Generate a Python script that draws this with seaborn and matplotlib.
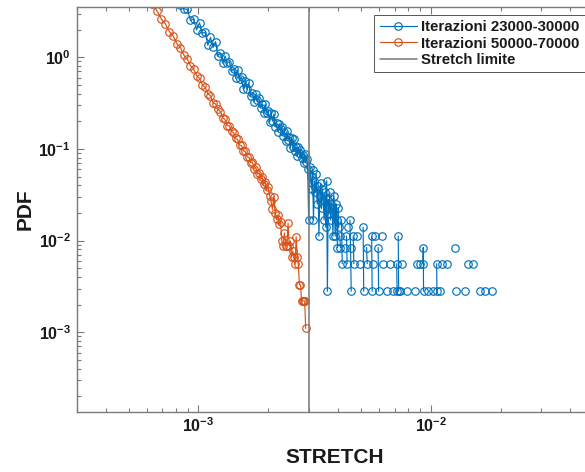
import numpy as np
import pandas as pd
import matplotlib
matplotlib.use("Agg")
import matplotlib.pyplot as plt
import seaborn as sns
from matplotlib.ticker import LogLocator, FuncFormatter, NullFormatter
from matplotlib.lines import Line2D

# ---------------- data ----------------
series_labels = ["Iterazioni 23000-30000", "Iterazioni 50000-70000", "Stretch limite"]
stretch_limit = 0.003

orange_x = [6.34e-4, 6.63e-4, 6.92e-4, 7.21e-4, 7.50e-4, 7.79e-4, 8.08e-4, 8.37e-4, 8.66e-4, 8.95e-4,
            9.24e-4, 9.53e-4, 9.82e-4, 1.011e-3, 1.040e-3, 1.069e-3, 1.098e-3, 1.127e-3, 1.156e-3, 1.185e-3,
            1.214e-3, 1.243e-3, 1.272e-3, 1.301e-3, 1.330e-3, 1.359e-3, 1.388e-3, 1.417e-3, 1.446e-3, 1.475e-3,
            1.504e-3, 1.533e-3, 1.562e-3, 1.591e-3, 1.620e-3, 1.649e-3, 1.678e-3, 1.707e-3, 1.736e-3, 1.765e-3,
            1.794e-3, 1.823e-3, 1.852e-3, 1.881e-3, 1.910e-3, 1.939e-3, 1.968e-3, 1.997e-3, 2.026e-3, 2.055e-3,
            2.084e-3, 2.113e-3, 2.142e-3, 2.171e-3, 2.200e-3, 2.229e-3, 2.258e-3, 2.287e-3, 2.316e-3, 2.345e-3,
            2.374e-3, 2.403e-3, 2.432e-3, 2.461e-3, 2.490e-3, 2.519e-3, 2.548e-3, 2.577e-3, 2.606e-3, 2.635e-3,
            2.664e-3, 2.693e-3, 2.722e-3, 2.751e-3, 2.780e-3, 2.809e-3, 2.838e-3, 2.867e-3, 2.896e-3]
orange_y = [3.84, 3.20, 2.62, 2.31, 1.90, 1.70, 1.40, 1.27, 1.05, 0.96,
            0.81, 0.75, 0.63, 0.59, 0.50, 0.47, 0.40, 0.38, 0.32, 0.31,
            0.27, 0.255, 0.22, 0.21, 0.18, 0.178, 0.155, 0.150, 0.130, 0.127,
            0.110, 0.109, 0.095, 0.094, 0.082, 0.081, 0.071, 0.072, 0.061, 0.063,
            0.053, 0.055, 0.047, 0.049, 0.041, 0.044, 0.036, 0.038, 0.031, 0.027,
            0.022, 0.030, 0.020, 0.017, 0.019, 0.015, 0.016, 0.0099, 0.0088, 0.0121,
            0.0088, 0.0088, 0.0154, 0.0088, 0.0099, 0.0066, 0.0077, 0.0066, 0.0055, 0.0110,
            0.0066, 0.0055, 0.0033, 0.0033, 0.0022, 0.0022, 0.0022, 0.0022, 0.0011]

blue_x = [8.37e-4, 8.66e-4, 8.95e-4, 9.24e-4, 9.53e-4, 9.82e-4, 1.011e-3, 1.040e-3, 1.069e-3, 1.098e-3,
          1.127e-3, 1.156e-3, 1.185e-3, 1.214e-3, 1.243e-3, 1.272e-3, 1.301e-3, 1.330e-3, 1.359e-3, 1.388e-3,
          1.417e-3, 1.446e-3, 1.475e-3, 1.504e-3, 1.533e-3, 1.562e-3, 1.591e-3, 1.620e-3, 1.649e-3, 1.678e-3,
          1.707e-3, 1.736e-3, 1.765e-3, 1.794e-3, 1.823e-3, 1.852e-3, 1.881e-3, 1.910e-3, 1.939e-3, 1.968e-3,
          1.997e-3, 2.026e-3, 2.055e-3, 2.084e-3, 2.113e-3, 2.142e-3, 2.171e-3, 2.200e-3, 2.229e-3, 2.258e-3,
          2.287e-3, 2.316e-3, 2.345e-3, 2.374e-3, 2.403e-3, 2.432e-3, 2.461e-3, 2.490e-3, 2.519e-3, 2.548e-3,
          2.577e-3, 2.606e-3, 2.635e-3, 2.664e-3, 2.693e-3, 2.722e-3, 2.751e-3, 2.780e-3, 2.809e-3, 2.838e-3,
          2.867e-3, 2.896e-3, 2.925e-3, 2.954e-3, 2.983e-3, 3.012e-3,
          3.041e-3, 3.070e-3, 3.099e-3, 3.128e-3, 3.157e-3, 3.186e-3, 3.215e-3, 3.244e-3, 3.273e-3, 3.302e-3,
          3.331e-3, 3.360e-3, 3.389e-3, 3.418e-3, 3.447e-3, 3.476e-3, 3.505e-3, 3.534e-3, 3.563e-3, 3.592e-3,
          3.621e-3, 3.650e-3, 3.679e-3, 3.708e-3, 3.737e-3, 3.766e-3, 3.795e-3, 3.824e-3, 3.853e-3, 3.882e-3,
          3.911e-3, 3.940e-3, 3.969e-3, 3.998e-3, 4.027e-3]
blue_y = [3.75, 3.37, 3.33, 2.52, 2.61, 1.99, 2.38, 1.83, 1.87, 1.35,
          1.65, 1.28, 1.48, 1.04, 1.11, 0.86, 1.03, 0.871, 0.895, 0.701,
          0.750, 0.589, 0.723, 0.573, 0.602, 0.446, 0.554, 0.445, 0.523, 0.377,
          0.409, 0.324, 0.393, 0.340, 0.355, 0.282, 0.307, 0.246, 0.306, 0.246,
          0.261, 0.196, 0.248, 0.201, 0.240, 0.175, 0.192, 0.154, 0.188, 0.164,
          0.174, 0.140, 0.153, 0.123, 0.155, 0.126, 0.135, 0.103, 0.130, 0.106,
          0.127, 0.0945, 0.104, 0.084, 0.104, 0.0912, 0.0971, 0.0787, 0.0868, 0.0704,
          0.0891, 0.0728, 0.0786, 0.0599, 0.0168, 0.063,
          0.0504, 0.0364, 0.0588, 0.0168, 0.0448, 0.0336, 0.0532, 0.0252, 0.0392, 0.0112,
          0.0308, 0.0420, 0.0224, 0.0364, 0.0280, 0.0168, 0.0336, 0.0140, 0.0448, 0.0028,
          0.0280, 0.0196, 0.0336, 0.0168, 0.0252, 0.0224, 0.0112, 0.0308, 0.0196, 0.0112,
          0.0252, 0.0168, 0.0084, 0.0224, 0.0140]

# sparse tail of the blue histogram: runs of adjacent non-empty bins
blue_tail_runs = [
    [(4.060e-3, 0.0112), (4.089e-3, 0.0084)],
    [(4.130e-3, 0.0168), (4.159e-3, 0.0056)],
    [(4.270e-3, 0.0084)],
    [(4.340e-3, 0.0112), (4.369e-3, 0.0056)],
    [(4.410e-3, 0.0140)],
    [(4.490e-3, 0.0168), (4.519e-3, 0.0084), (4.548e-3, 0.0028)],
    [(4.640e-3, 0.0112), (4.669e-3, 0.0056)],
    [(4.800e-3, 0.0112)],
    [(4.960e-3, 0.0056)],
    [(5.120e-3, 0.0140), (5.149e-3, 0.0028)],
    [(5.300e-3, 0.0084), (5.329e-3, 0.0056)],
    [(5.570e-3, 0.0112), (5.599e-3, 0.0028)],
    [(5.660e-3, 0.0056)],
    [(5.740e-3, 0.0112)],
    [(5.940e-3, 0.0084), (5.969e-3, 0.0028)],
    [(6.150e-3, 0.0112)],
    [(6.250e-3, 0.0056)],
    [(6.460e-3, 0.0028)],
    [(6.680e-3, 0.0056)],
    [(6.900e-3, 0.0028)],
    [(7.140e-3, 0.0056), (7.169e-3, 0.0028)],
    [(7.250e-3, 0.0112), (7.279e-3, 0.0028)],
    [(7.370e-3, 0.0028)],
    [(7.500e-3, 0.0056)],
    [(7.880e-3, 0.0028)],
    [(8.560e-3, 0.0028)],
    [(8.710e-3, 0.0056)],
    [(8.990e-3, 0.0056)],
    [(9.260e-3, 0.0056), (9.290e-3, 0.0084), (9.319e-3, 0.0028)],
    [(9.760e-3, 0.0028)],
    [(1.020e-2, 0.0028)],
    [(1.061e-2, 0.0056), (1.064e-2, 0.0028)],
    [(1.097e-2, 0.0028)],
    [(1.115e-2, 0.0056)],
    [(1.172e-2, 0.0056)],
    [(1.273e-2, 0.0084)],
    [(1.280e-2, 0.0028)],
    [(1.405e-2, 0.0028)],
    [(1.453e-2, 0.0056)],
    [(1.527e-2, 0.0056)],
    [(1.632e-2, 0.0028)],
    [(1.714e-2, 0.0028)],
    [(1.832e-2, 0.0028)],
]

# ---------------- style ----------------
BLUE = "#0072BD"
ORANGE = "#D95319"
GRAY = "#777777"
AXC = "#7a7a7a"
TXT = "#1a1a1a"

sns.set_theme(style="ticks")
plt.rcParams["font.family"] = ["Liberation Sans", "DejaVu Sans"]
plt.rcParams["font.weight"] = "bold"
plt.rcParams["mathtext.fontset"] = "custom"
plt.rcParams["mathtext.rm"] = "Liberation Sans:bold"
plt.rcParams["mathtext.bf"] = "Liberation Sans:bold"
plt.rcParams["mathtext.it"] = "Liberation Sans:bold"
plt.rcParams["mathtext.default"] = "bf"

# ---------------- frames ----------------
df_orange = pd.DataFrame({"x": orange_x, "y": orange_y, "run": 0})
rows = [(x, y, 0) for x, y in zip(blue_x, blue_y)]
for r, run in enumerate(blue_tail_runs, start=1):
    for x, y in run:
        rows.append((x, y, r))
df_blue = pd.DataFrame(rows, columns=["x", "y", "run"])

# ---------------- figure ----------------
W, H = 585, 472
fig = plt.figure(figsize=(W / 100, H / 100), dpi=100)
fig.patch.set_facecolor("white")
ax_left, ax_right, ax_top, ax_bottom = 77, 593, 6.7, 412.3
ax = fig.add_axes([ax_left / W, 1 - ax_bottom / H, (ax_right - ax_left) / W, (ax_bottom - ax_top) / H])
ax.set_xscale("log")
ax.set_yscale("log")

line_kw = dict(marker="o", markersize=5.4, markerfacecolor="none", markeredgewidth=0.85,
               linewidth=0.85, estimator=None, sort=False, legend=False, ax=ax)
sns.lineplot(data=df_blue, x="x", y="y", units="run", color=BLUE, markeredgecolor=BLUE, **line_kw)
sns.lineplot(data=df_orange, x="x", y="y", units="run", color=ORANGE, markeredgecolor=ORANGE, **line_kw)
ax.axvline(stretch_limit, color=GRAY, linewidth=1.1, zorder=3)

ax.set_xlim(3e-4, 5e-2)
ax.set_ylim(1.34e-4, 3.56)

# ticks
def log_label(v, p):
    e = int(round(np.log10(v)))
    return r"$\mathbf{10}^{\mathbf{%s}}$" % (("-" + str(-e)) if e < 0 else str(e))

fmt = FuncFormatter(log_label)
for axis in (ax.xaxis, ax.yaxis):
    axis.set_major_locator(LogLocator(base=10, numticks=20))
    axis.set_minor_locator(LogLocator(base=10, subs=np.arange(2, 10), numticks=20))
    axis.set_major_formatter(fmt)
    axis.set_minor_formatter(NullFormatter())
ax.tick_params(which="both", direction="in", top=True, right=False, color=AXC,
               labelcolor=TXT, width=0.8)
ax.tick_params(which="major", length=5, labelsize=11.5)
ax.tick_params(which="minor", length=2.8)
ax.tick_params(axis="x", which="major", pad=3)
ax.tick_params(axis="y", which="major", pad=4.5)

for side in ("top", "left", "bottom"):
    ax.spines[side].set_visible(True)
    ax.spines[side].set_color(AXC)
    ax.spines[side].set_linewidth(1.0)
ax.spines["right"].set_visible(False)

ax.set_xlabel("STRETCH", fontsize=15, fontweight="bold", color=TXT)
ax.set_ylabel("PDF", fontsize=15, fontweight="bold", color=TXT)
ax.xaxis.set_label_coords(0.5, -0.087)
ax.yaxis.set_label_coords(-0.083, 0.5)

# legend
handles = [
    Line2D([0], [0], color=BLUE, marker="o", markerfacecolor="none", markeredgecolor=BLUE,
           markersize=5.4, markeredgewidth=0.85, linewidth=0.85),
    Line2D([0], [0], color=ORANGE, marker="o", markerfacecolor="none", markeredgecolor=ORANGE,
           markersize=5.4, markeredgewidth=0.85, linewidth=0.85),
    Line2D([0], [0], color=GRAY, linewidth=1.1),
]
leg = ax.legend(handles, series_labels, loc="upper right",
                bbox_to_anchor=(584.5 / W, 1 - 15 / H), bbox_transform=fig.transFigure,
                borderaxespad=0, frameon=True, fancybox=False, framealpha=1,
                edgecolor="#555555", handlelength=2.5, handletextpad=0.25,
                labelspacing=0.15, borderpad=0.35, numpoints=1,
                prop={"weight": "bold", "size": 10.8})
leg.get_frame().set_linewidth(0.7)
for t in leg.get_texts():
    t.set_color(TXT)

fig.savefig("out.png", dpi=100, facecolor="white")
